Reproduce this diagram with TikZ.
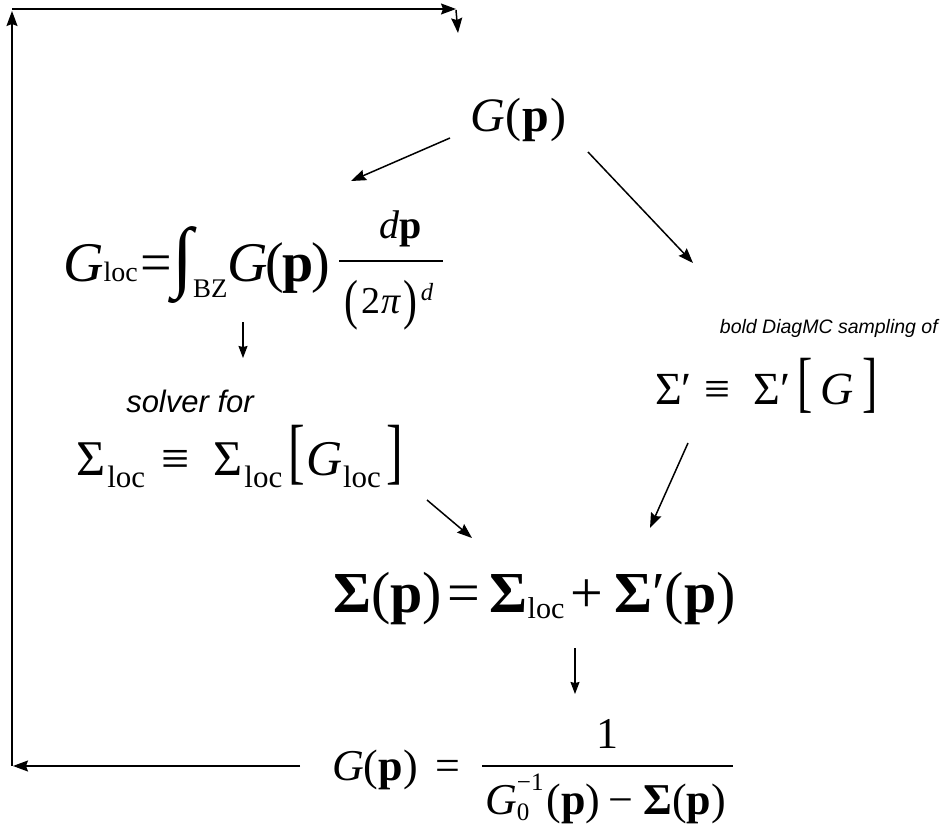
\documentclass[tikz,border=0pt]{standalone}
\usepackage{graphicx}
\usepackage{fontspec}
\setmainfont{Liberation Serif}
\setsansfont{Liberation Sans}
\usetikzlibrary{arrows.meta}
\newcommand{\tallb}[2]{\scalebox{1}[#1]{#2}}
% \lsub{drop}{scale}{text}
\newcommand{\lsub}[3]{\raisebox{-#1}{\scalebox{#2}{#3}}}
\newcommand{\lsup}[3]{\raisebox{#1}{\scalebox{#2}{#3}}}
\newcommand{\bigpar}[1]{\raisebox{-5pt}{\scalebox{1.1}[1.45]{#1}}}
\tikzset{
  eq/.style={inner sep=0pt, anchor=base west, font=\fontsize{#1pt}{#1pt}\selectfont},
  eqc/.style={inner sep=0pt, anchor=base, font=\fontsize{#1pt}{#1pt}\selectfont},
  lbl/.style={inner sep=0pt, anchor=base, font=\fontsize{#1pt}{#1pt}\selectfont\sffamily\itshape},
  conn/.style={-{Stealth[length=15pt,width=11pt,inset=2pt]}, line width=1.5pt},
  dnarrow/.style={-{Stealth[length=12pt,width=9pt,inset=1pt]}, line width=1.2pt},
  fbar/.style={line width=2pt},
}
\begin{document}
\begin{tikzpicture}[x=1pt,y=-1pt]
\useasboundingbox (0,0) rectangle (943,824);

% top G(p)
\node[eq=48] (gtop) at (470,132) {{\itshape G}\hspace{1pt}(\hspace{1pt}\textbf{p}\hspace{1pt})};

% G_loc formula
\node[eq=56] (gloc) at (63,281) {{\itshape G}\lsub{0pt}{0.5}{loc}\hspace{3pt}=\hspace{0pt}\raisebox{-1pt}{\scalebox{1.35}[1.4]{∫}}\lsub{16pt}{0.48}{BZ}\hspace{0pt}{\itshape G}\hspace{-2pt}(\hspace{-2pt}\textbf{p}\hspace{-2pt})};
\node[eqc=40] (glocnum) at (401,238) {{\itshape d}\textbf{p}};
\node[eqc=38] (glocden) at (389,313) {\bigpar{(}\hspace{3pt}2\hspace{1pt}{\itshape π}\hspace{3pt}\bigpar{)}\hspace{3pt}\lsup{13pt}{0.65}{\itshape d}};
\coordinate (gbarl) at (339,261); \coordinate (gbarr) at (443,261);
\draw[fbar] (gbarl) -- (gbarr);

% local solver
\node[lbl=31] (solver) at (190,412) {solver for};
\node[eq=50] (sloc) at (76,475) {Σ\hspace{2pt}\lsub{12pt}{0.62}{loc}\hspace{16pt}≡\hspace{24pt}Σ\hspace{2pt}\lsub{12pt}{0.62}{loc}\hspace{6pt}\tallb{1.45}{[}\hspace{2pt}{\itshape G}\lsub{12pt}{0.62}{loc}\hspace{6pt}\tallb{1.45}{]}};

% DiagMC
\node[lbl=19.5, anchor=base east] (diag) at (938,333) {bold DiagMC sampling of};
\node[eq=46] (sprime) at (655,404) {Σ′\hspace{12pt}≡\hspace{24pt}Σ′\hspace{7pt}\tallb{1.45}{[}\hspace{7pt}{\itshape G}\hspace{9pt}\tallb{1.45}{]}};

% Sigma(p)
\node[eq=58] (sigp) at (333,612) {\textbf{Σ}(\textbf{p})\hspace{6pt}=\hspace{9pt}\textbf{Σ}\lsub{6pt}{0.52}{loc}\hspace{6pt}+\hspace{11pt}\textbf{Σ}′(\textbf{p})};

% Dyson equation
\node[eq=44] (gbot) at (332,780) {{\itshape G}(\textbf{p})\hspace{18pt}=};
\node[eqc=44] (gbotnum) at (607,748) {1};
\node[eq=44] (gbotden) at (485,814) {{\itshape G}\rlap{\lsub{6pt}{0.57}{0}}\lsup{24pt}{0.57}{−1}\hspace{3pt}(\textbf{p})\hspace{8pt}−\hspace{10pt}\textbf{Σ}(\textbf{p})};
\coordinate (bbarl) at (482,766); \coordinate (bbarr) at (733,766);
\draw[fbar] (bbarl) -- (bbarr);

% connector end points
\coordinate (a1s) at (450,138); \coordinate (a1e) at (351,181);
\coordinate (a2s) at (588,152); \coordinate (a2e) at (693,263);
\coordinate (a3s) at (243,322); \coordinate (a3e) at (243,358);
\coordinate (a4s) at (427,500); \coordinate (a4e) at (472,538);
\coordinate (a5s) at (688,443); \coordinate (a5e) at (650,528);
\coordinate (a6s) at (575,648); \coordinate (a6e) at (575,694);
\coordinate (f0) at (300,766);
\coordinate (f1) at (13,766);
\coordinate (f2) at (12,766);
\coordinate (f3) at (12,11);
\coordinate (f4) at (12,9);
\coordinate (f5) at (456,9);
\coordinate (f6) at (456,10);
\coordinate (f7) at (458,33);

\draw[conn] (a1s) -- (a1e);
\draw[conn] (a2s) -- (a2e);
\draw[dnarrow] (a3s) -- (a3e);
\draw[conn] (a4s) -- (a4e);
\draw[conn] (a5s) -- (a5e);
\draw[dnarrow] (a6s) -- (a6e);
\draw[conn] (f0) -- (f1);
\draw[conn] (f2) -- (f3);
\draw[conn] (f4) -- (f5);
\draw[conn] (f6) -- (f7);
\end{tikzpicture}
\end{document}
